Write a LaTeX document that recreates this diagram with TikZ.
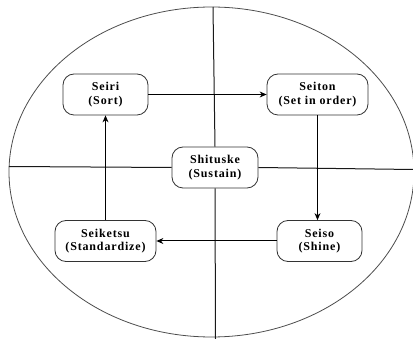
\documentclass[tikz,border=0pt]{standalone}
\usepackage{fontspec}
\setmainfont{Liberation Serif}[LetterSpace=7]
\usetikzlibrary{arrows.meta}
\begin{document}
\begin{tikzpicture}[x=1pt,y=-1pt,
  sbox/.style={draw=black!80, line width=0.8pt, fill=white, rounded corners=11pt,
    minimum height=41pt, align=center, inner sep=2pt,
    font=\bfseries\fontsize{12}{13.5}\selectfont},
  axis/.style={draw=black!90, line width=1pt},
  flow/.style={draw=black, line width=1pt, -{Stealth[length=7pt,width=6pt]}}]
\useasboundingbox (0,0) rectangle (413,339);
\draw[black!70, line width=0.8pt] (211.5,172) ellipse [x radius=202.5, y radius=165];
\node[sbox, minimum width=85pt] (seiri) at (105.5,94.5) {Seiri\\(Sort)};
\node[sbox, minimum width=101pt] (seiton) at (317.5,94.5) {Seiton\\(Set in order)};
\node[sbox, minimum width=86pt] (shit) at (215,167.5) {Shituske\\(Sustain)};
\node[sbox, minimum width=101pt] (seik) at (105.5,241) {Seiketsu\\(Standardize)};
\node[sbox, minimum width=85pt] (seiso) at (319.5,241) {Seiso\\(Shine)};
\coordinate (vt) at (213,7);
\coordinate (vb) at (215.5,339);
\coordinate (hl) at (9,166.5);
\coordinate (hr) at (413,169.5);
\draw[axis] (vt) -- (shit.north);
\draw[axis] (shit.south) -- (vb);
\draw[axis] (hl) -- (shit.west);
\draw[axis] (shit.east) -- (hr);
\draw[flow] (seiri.east) -- (seiton.west);
\draw[flow] (seiton.south) -- (seiton.south |- seiso.north);
\draw[flow] (seiso.west) -- (seik.east);
\draw[flow] (seik.north) -- (seik.north |- seiri.south);
\end{tikzpicture}
\end{document}
